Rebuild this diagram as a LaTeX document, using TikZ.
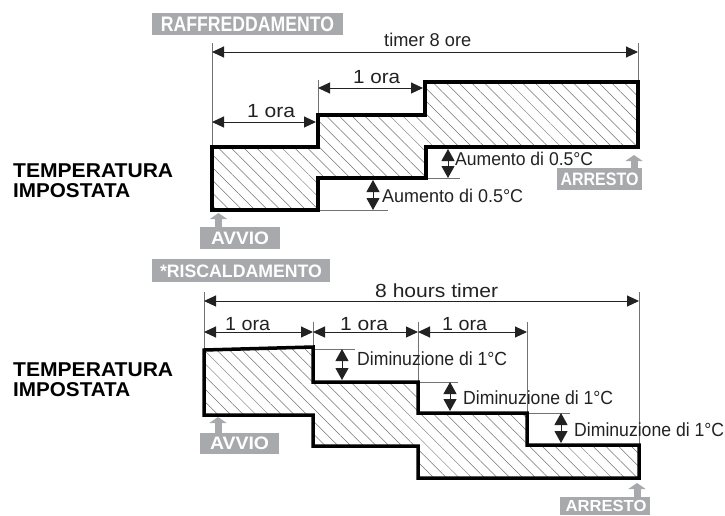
\documentclass[tikz,border=0pt]{standalone}
\usepackage{fontspec}
\setmainfont{Liberation Sans}
\usetikzlibrary{arrows.meta,patterns.meta}
\definecolor{tagGray}{HTML}{A7A9AC}
\definecolor{ink}{HTML}{222222}
\newcommand{\fw}[3]{\resizebox{#1pt}{\height}{\fontsize{#2}{#2}\selectfont #3}}
\begin{document}
\begin{tikzpicture}[x=1pt,y=-1pt,
 outl/.style={line width=3.5pt, black, line join=miter},
 hatch/.style={pattern={Lines[angle=-45,distance=9pt,line width=0.5pt]}, pattern color=black!55},
 ext/.style={black!55, line width=0.7pt},
 dimh/.style={ink, line width=1pt, {Triangle[length=12pt,width=11pt]}-{Triangle[length=12pt,width=11pt]}},
 dimv/.style={ink, line width=1pt, {Triangle[length=12pt,width=13pt]}-{Triangle[length=12pt,width=13pt]}},
 tagtext/.style={text=white, font=\bfseries, inner sep=0pt, anchor=base},
 garrow/.style={tagGray, line width=7pt, -{Triangle[length=6pt,width=17pt]}},
 lbl/.style={inner sep=0pt, anchor=base west, text=ink},
 side/.style={inner sep=0pt, anchor=base west, font=\bfseries, text=black}
]
\useasboundingbox (0,0) rectangle (725,515);

% ---------- top (cooling) ----------
\fill[hatch] (212,147) -- (318,147) -- (318,115) -- (425,115) -- (425,82) -- (638,82) -- (638,147) -- (426,147) -- (426,178) -- (318,178) -- (318,210) -- (212,210) -- cycle;
\draw[ext] (212,43) -- (212,147);
\draw[ext] (318,80) -- (318,115);
\draw[ext] (638,43) -- (638,82);
\draw[ext] (318,210) -- (388,210);
\draw[ext] (426,178) -- (460,178);
\draw[outl] (212,147) -- (318,147) -- (318,115) -- (425,115) -- (425,82) -- (638,82) -- (638,147) -- (426,147) -- (426,178) -- (318,178) -- (318,210) -- (212,210) -- cycle;

\draw[dimh] (212,52) -- (638,52);
\draw[dimh] (212,122) -- (316,122);
\draw[dimh] (318,88) -- (423,88);
\draw[dimv] (373,180) -- (373,210);
\draw[dimv] (448,149) -- (448,178);

\node[lbl] (t8) at (384,46) {\fw{87}{18.5}{timer 8 ore}};
\node[lbl] (o1) at (247,117) {\fw{48}{19}{1 ora}};
\node[lbl] (o2) at (353,83) {\fw{47}{19}{1 ora}};
\node[lbl] (au1) at (382,202.5) {\fw{141}{18.5}{Aumento di 0.5°C}};
\node[lbl] (au2) at (455,165) {\fw{138}{18.5}{Aumento di 0.5°C}};

\fill[tagGray] (152,13) rectangle (343,35);
\node[tagtext] (raff) at (247.5,31) {\fw{173}{21}{RAFFREDDAMENTO}};
\fill[tagGray] (557,168) rectangle (642,190);
\node[tagtext] (arr1) at (599.5,185.5) {\fw{78}{18}{ARRESTO}};
\draw[garrow] (634,168) -- (634,155);
\fill[tagGray] (200,227) rectangle (280,249);
\node[tagtext] (avv1) at (240,244.5) {\fw{58}{18}{AVVIO}};
\draw[garrow] (218.5,227) -- (218.5,213);

\node[side] (temp1) at (13,177) {\fw{160}{20}{TEMPERATURA}};
\node[side] (imp1) at (13,197) {\fw{117}{20}{IMPOSTATA}};

% ---------- bottom (heating) ----------
\fill[hatch] (204,350) -- (313,347) -- (313,382) -- (418,382) -- (418,413) -- (527,413) -- (527,445) -- (639,445) -- (639,478) -- (418,478) -- (418,446) -- (313,446) -- (313,415) -- (204,415) -- cycle;
\draw[ext] (204,292) -- (204,350);
\draw[ext] (313,322) -- (313,347);
\draw[ext] (418,322) -- (418,382);
\draw[ext] (527,322) -- (527,413);
\draw[ext] (639,292) -- (639,445);
\draw[ext] (313,349) -- (355,349);
\draw[ext] (418,382) -- (458,382);
\draw[ext] (527,413) -- (570,413);
\draw[outl] (204,350) -- (313,347) -- (313,382) -- (418,382) -- (418,413) -- (527,413) -- (527,445) -- (639,445) -- (639,478) -- (418,478) -- (418,446) -- (313,446) -- (313,415) -- (204,415) -- cycle;

\draw[dimh] (204,301) -- (639,301);
\draw[dimh] (204,332) -- (313,332);
\draw[dimh] (313,332) -- (418,332);
\draw[dimh] (418,332) -- (527,332);
\draw[dimv] (342,349) -- (342,380);
\draw[dimv] (450,382) -- (450,411);
\draw[dimv] (561,413) -- (561,443);

\node[lbl] (h8) at (375,297) {\fw{123}{19}{8 hours timer}};
\node[lbl] (b1) at (225,330) {\fw{45}{19}{1 ora}};
\node[lbl] (b2) at (340,330) {\fw{48}{19}{1 ora}};
\node[lbl] (b3) at (442,330) {\fw{45}{19}{1 ora}};
\node[lbl] (d1) at (357,365) {\fw{150}{19}{Diminuzione di 1°C}};
\node[lbl] (d2) at (463,404) {\fw{150}{19}{Diminuzione di 1°C}};
\node[lbl] (d3) at (574,436) {\fw{150}{19}{Diminuzione di 1°C}};

\fill[tagGray] (152,259) rectangle (330,282);
\node[tagtext] (risc) at (241,277) {\fw{162}{18}{*RISCALDAMENTO}};
\fill[tagGray] (200,433) rectangle (279,454);
\node[tagtext] (avv2) at (239.5,449.5) {\fw{59}{18}{AVVIO}};
\draw[garrow] (218,433) -- (218,417);
\fill[tagGray] (560,497) rectangle (650,515);
\node[tagtext] (arr2) at (606,511.5) {\fw{81}{16}{ARRESTO}};
\draw[garrow] (637,497) -- (637,483);

\node[side] (temp2) at (13,376) {\fw{160}{20}{TEMPERATURA}};
\node[side] (imp2) at (13,396) {\fw{117}{20}{IMPOSTATA}};
\end{tikzpicture}
\end{document}
